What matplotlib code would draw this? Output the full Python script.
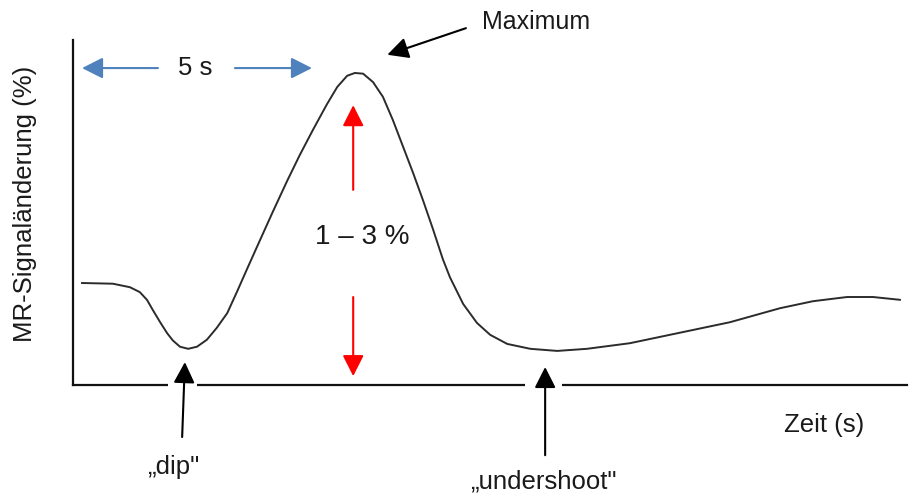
import matplotlib
matplotlib.use("Agg")
import matplotlib.pyplot as plt
from matplotlib.patches import Rectangle

plt.rcParams['font.family'] = ['Liberation Sans', 'DejaVu Sans']

# BOLD response, schematic: time in s, signal change in %
zeit = [0.00, 0.56, 0.87, 1.05, 1.18, 1.29, 1.42, 1.55, 1.65, 1.78,
        1.93, 2.09, 2.27, 2.45, 2.64, 2.82, 3.00, 3.24, 3.47, 3.73,
        3.96, 4.20, 4.45, 4.64, 4.82, 4.96, 5.11, 5.29, 5.47, 5.65,
        5.84, 6.02, 6.20, 6.38, 6.56, 6.69, 6.93, 7.18, 7.42, 7.73,
        8.15, 8.64, 9.18, 9.96, 10.87, 11.78, 12.69, 13.29, 13.91, 14.38,
        14.87]
signal = [0.00, -0.01, -0.06, -0.13, -0.24, -0.39, -0.56, -0.72, -0.82, -0.91,
          -0.94, -0.91, -0.81, -0.64, -0.43, -0.12, 0.20, 0.62, 1.02, 1.46,
          1.83, 2.19, 2.55, 2.80, 2.96, 3.00, 2.99, 2.87, 2.66, 2.33,
          1.94, 1.57, 1.18, 0.77, 0.34, 0.08, -0.30, -0.57, -0.74, -0.87,
          -0.94, -0.97, -0.94, -0.86, -0.71, -0.56, -0.36, -0.26, -0.20, -0.20,
          -0.24]

t_dip = 1.87
t_peak = 4.93
t_under = 8.42

text_col = "#1a1a1a"
blue = "#4f81bd"
red = "#ff0000"

fig = plt.figure(figsize=(9.14, 4.95), dpi=100)
ax = fig.add_axes([0.0799, 0.2222, 0.9125, 0.697])
ax.plot(zeit, signal, color="#2b2b2b", lw=1.4, solid_joinstyle="round")
ax.set_xlim(-0.164, 15.0)
ax.set_ylim(-1.457, 3.471)
ax.set_xticks([])
ax.set_yticks([])
for side in ["top", "right"]:
    ax.spines[side].set_visible(False)
for side in ["left", "bottom"]:
    ax.spines[side].set_linewidth(1.6)
    ax.spines[side].set_color("#111111")

def arrow(x0, y0, x1, y1, col):
    ax.annotate("", xy=(x1, y1), xytext=(x0, y0),
                arrowprops=dict(arrowstyle="-|>,head_length=0.85,head_width=0.43",
                                mutation_scale=15, color=col, lw=1.5,
                                shrinkA=0, shrinkB=0),
                annotation_clip=False, zorder=5)

# 5 s
arrow(1.38, 3.07, 0.0, 3.07, blue)
arrow(2.78, 3.07, 4.18, 3.07, blue)
ax.text(2.05, 3.07, "5 s", ha="center", va="center", fontsize=18.5, color=text_col)

# Maximum
arrow(6.98, 3.64, 5.55, 3.26, "black")
ax.text(8.25, 3.73, "Maximum", ha="center", va="center", fontsize=18, color=text_col,
        clip_on=False)

# 1 - 3 %
arrow(t_peak, 1.33, t_peak, 2.54, red)
arrow(t_peak, -0.20, t_peak, -1.33, red)
ax.text(5.09, 0.66, "1 – 3 %", ha="center", va="center", fontsize=20, color=text_col)

# gaps in the time axis where the arrows cross
for x0, x1 in [(1.56, 2.09), (8.05, 8.73)]:
    ax.add_patch(Rectangle((x0, -1.56), x1 - x0, 0.2, facecolor="white",
                           edgecolor="none", clip_on=False, zorder=4))

# dip
arrow(1.82, -2.20, t_dip, -1.13, "black")
ax.text(1.65, -2.63, "„dip\"", ha="center", va="center", fontsize=18.5,
        color=text_col, clip_on=False)

# undershoot
arrow(t_under, -2.46, t_under, -1.20, "black")
ax.text(8.38, -2.84, "„undershoot\"", ha="center", va="center", fontsize=18.5,
        color=text_col, clip_on=False)

ax.text(13.49, -2.03, "Zeit (s)", ha="center", va="center", fontsize=18.5,
        color=text_col, clip_on=False)
fig.text(25 / 914, 0.588, "MR-Signaländerung (%)", rotation=90, ha="center",
         va="center", fontsize=18.5, color=text_col)

fig.savefig("out.png", dpi=100)
